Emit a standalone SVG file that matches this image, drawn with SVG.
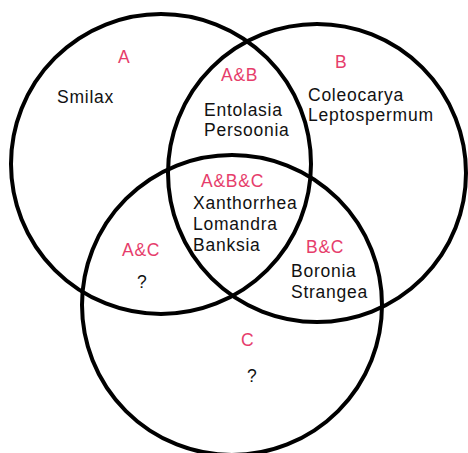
<svg xmlns="http://www.w3.org/2000/svg" width="468" height="453" viewBox="0 0 468 453">
<style>
.set{fill:none;stroke:#000;stroke-width:4}
text{font-family:"Liberation Sans",Arial,sans-serif;font-size:17.5px;letter-spacing:0.75px}
.lbl{fill:#e63d6b}
.item{fill:#111}
</style>
<rect width="468" height="453" fill="#fff"/>
<g id="sets">
<circle id="circle-A" class="set" cx="161" cy="164" r="150"/>
<circle id="circle-B" class="set" cx="317" cy="173" r="149"/>
<circle id="circle-C" class="set" cx="232" cy="305" r="150"/>
</g>
<g id="region-A">
<text class="lbl" x="118" y="63">A</text>
<text class="item" x="57" y="103">Smilax</text>
</g>
<g id="region-B">
<text class="lbl" x="335" y="68">B</text>
<text class="item" x="308" y="101">Coleocarya</text>
<text class="item" x="308" y="121">Leptospermum</text>
</g>
<g id="region-AB">
<text class="lbl" x="221" y="81">A&amp;B</text>
<text class="item" x="204" y="116">Entolasia</text>
<text class="item" x="204" y="136">Persoonia</text>
</g>
<g id="region-ABC">
<text class="lbl" x="201" y="187">A&amp;B&amp;C</text>
<text class="item" x="193" y="209">Xanthorrhea</text>
<text class="item" x="193" y="230">Lomandra</text>
<text class="item" x="193" y="251">Banksia</text>
</g>
<g id="region-AC">
<text class="lbl" x="122" y="256">A&amp;C</text>
<text class="item" x="137" y="288">?</text>
</g>
<g id="region-BC">
<text class="lbl" x="306" y="253">B&amp;C</text>
<text class="item" x="291" y="277">Boronia</text>
<text class="item" x="291" y="298">Strangea</text>
</g>
<g id="region-C">
<text class="lbl" x="241" y="346">C</text>
<text class="item" x="247" y="382">?</text>
</g>
</svg>
